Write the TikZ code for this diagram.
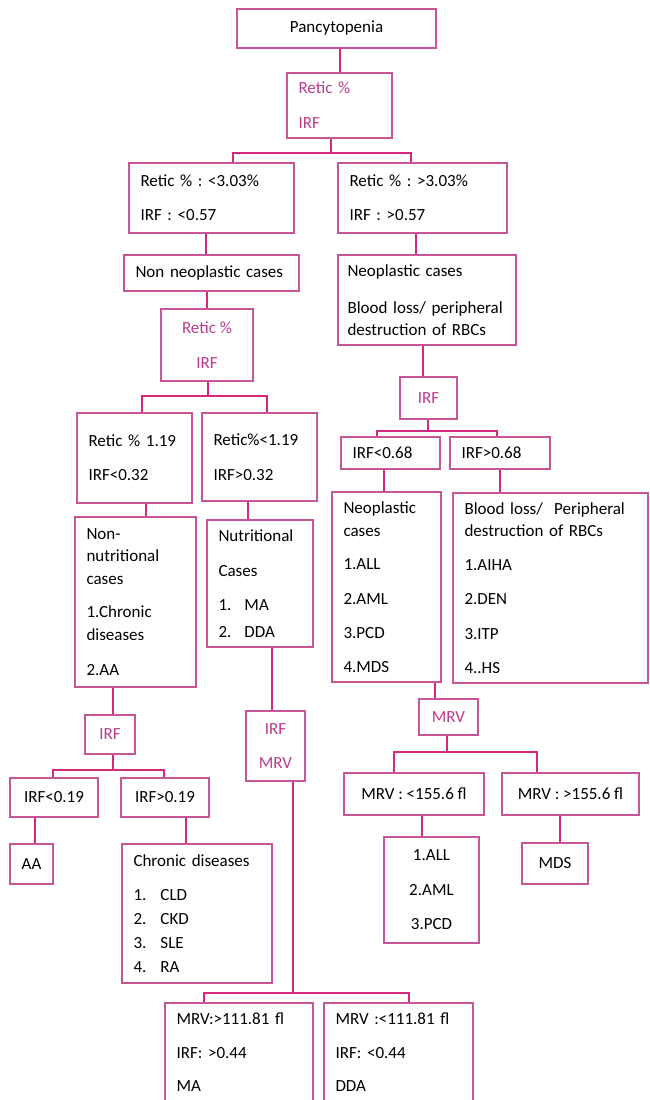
\documentclass[tikz,border=0pt]{standalone}
\usepackage{fontspec}
\setmainfont{Carlito}
\frenchspacing
\hyphenpenalty=10000
\exhyphenpenalty=10000

\definecolor{boxline}{RGB}{198,86,150}
\definecolor{linkline}{RGB}{214,40,124}
\definecolor{qtext}{RGB}{188,58,140}

\begin{document}
\begin{tikzpicture}[
  x=1pt, y=-1pt,
  box/.style={rectangle, draw=boxline, line width=1.5pt, inner ysep=2pt, font=\fontsize{17}{22.5}\selectfont},
  lbox/.style={box, align=left, inner xsep=11.5pt},
  cbox/.style={box, align=center, inner xsep=2pt},
  qbox/.style={cbox, text=qtext},
  link/.style={draw=linkline, line width=2pt},
]
\useasboundingbox (0,0) rectangle (649,1100);

% === Top ===
\node[cbox, minimum width=199pt, minimum height=39pt] (panc) at (336.5,28.5) {Pancytopenia};
\node[lbox, text=qtext, text width=82pt, minimum height=65pt] (q1) at (339.5,105.5) {Retic \%\\[12.5pt]IRF};

\node[lbox, text width=142pt, minimum height=70pt] (lo1) at (211.5,198) {Retic \% : <3.03\%\\[11.5pt]IRF : <0.57};
\node[lbox, text width=146pt, minimum height=70pt] (hi1) at (422.5,198) {Retic \% : >3.03\%\\[11.5pt]IRF : >0.57};

\node[lbox, text width=152pt, minimum height=36pt] (nonneo) at (211.5,273) {Non neoplastic cases};
\node[lbox, inner xsep=9.5pt, text width=159pt, minimum height=90pt] (neo) at (427,300) {Neoplastic cases\\[14.5pt]Blood loss/ peripheral\\destruction of RBCs};

% === Non neoplastic side ===
\node[qbox, minimum width=92pt, minimum height=72pt] (q2) at (207,345) {Retic \%\\[12.5pt]IRF};

\node[lbox, text width=92pt, minimum height=90pt] (lo2) at (134.5,458) {Retic \% 1.19\\[11.5pt]IRF<0.32};
\node[lbox, text width=92pt, minimum height=88pt] (hi2) at (259.5,457) {Retic\%<1.19\\[13pt]IRF>0.32};

\node[lbox, text width=98pt, minimum height=170pt] (nonnut) at (135.5,602) {Non-\\nutritional\\cases\\[11pt]1.Chronic\\diseases\\[13pt]2.AA};
\node[lbox, text width=83pt, minimum height=127pt] (nut) at (260,583.5) {Nutritional\\[12pt]Cases\\[11.5pt]\makebox[26pt][l]{1.}MA\\[4.5pt]\makebox[26pt][l]{2.}DDA};

\node[qbox, minimum width=50pt, minimum height=39pt] (irfa) at (110,734.5) {IRF};
\node[cbox, minimum width=88pt, minimum height=39pt] (lo4) at (54,797.5) {IRF<0.19};
\node[cbox, minimum width=88pt, minimum height=39pt] (hi4) at (165,797.5) {IRF>0.19};
\node[cbox, minimum width=43pt, minimum height=40pt] (aa) at (31.5,864) {AA};
\node[lbox, text width=127pt, minimum height=139pt] (chron) at (197,913.5) {Chronic diseases\\[11.5pt]\makebox[27pt][l]{1.}CLD\\[1.5pt]\makebox[27pt][l]{2.}CKD\\[1.5pt]\makebox[27pt][l]{3.}SLE\\[2pt]\makebox[27pt][l]{4.}RA};

\node[qbox, minimum width=59pt, minimum height=70pt] (mq) at (275.5,746) {IRF\\[11.5pt]MRV};
\node[lbox, text width=125pt, minimum height=98pt] (ma) at (239,1052) {MRV:>111.81 fl\\[11.5pt]IRF: >0.44\\[10.5pt]MA};
\node[lbox, text width=126pt, minimum height=98pt] (dda) at (398.5,1052) {MRV :<111.81 fl\\[11.5pt]IRF: <0.44\\[10.5pt]DDA};

% === Neoplastic side ===
\node[qbox, minimum width=57pt, minimum height=42pt] (irfb) at (428.5,398) {IRF};
\node[lbox, text width=76pt, minimum height=32pt] (lo3) at (390.5,453) {IRF<0.68};
\node[lbox, text width=77pt, minimum height=32pt] (hi3) at (500,453) {IRF>0.68};

\node[lbox, text width=86pt, minimum height=190pt] (neol) at (386.5,587) {Neoplastic\\cases\\[11pt]1.ALL\\[12pt]2.AML\\[11.5pt]3.PCD\\[11.5pt]4.MDS};
\node[lbox, text width=172pt, minimum height=190pt] (blood) at (550.5,588) {Blood loss/\ \ Peripheral\\destruction of RBCs\\[11.5pt]1.AIHA\\[11.5pt]2.DEN\\[12pt]3.ITP\\[12pt]4..HS};

\node[qbox, minimum width=59pt, minimum height=36pt] (mrvq) at (448.5,717) {MRV};
\node[cbox, minimum width=140pt, minimum height=42pt] (lo5) at (414,794) {MRV : <155.6 fl};
\node[cbox, minimum width=137pt, minimum height=42pt] (hi5) at (570.5,794) {MRV : >155.6 fl};
\node[cbox, minimum width=95pt, minimum height=106pt] (alll) at (431.5,890) {1.ALL\\[12.5pt]2.AML\\[11.5pt]3.PCD};
\node[cbox, minimum width=66pt, minimum height=41pt] (mds) at (555,863.5) {MDS};

% === Links: top ===
\draw[link] (q1.north) -- (q1.north |- panc.south);
\draw[link] ([xshift=-8.5pt]q1.south) -- ++(0,14) coordinate (j1);
\draw[link] ([xshift=21.5pt]lo1.north) |- (j1) -| ([xshift=-11.5pt]hi1.north);
\draw[link] ([xshift=-5.5pt]lo1.south) -- ([xshift=-5.5pt]lo1.south |- nonneo.north);
\draw[link] ([xshift=-6.5pt]hi1.south) -- ([xshift=-6.5pt]hi1.south |- neo.north);

% === Links: non neoplastic side ===
\draw[link] (q2.north) -- (q2.north |- nonneo.south);
\draw[link] ([xshift=1pt]q2.south) -- ++(0,14) coordinate (j2);
\draw[link] ([xshift=7.5pt]lo2.north) |- (j2) -| ([xshift=7.5pt]hi2.north);
\draw[link] ([xshift=11.5pt]lo2.south) -- ([xshift=11.5pt]lo2.south |- nonnut.north);
\draw[link] ([xshift=-11.5pt]hi2.south) -- ([xshift=-11.5pt]hi2.south |- nut.north);
\draw[link] ([xshift=3pt]irfa.north) -- ([xshift=3pt]irfa.north |- nonnut.south);
\draw[link] ([xshift=3pt]irfa.south) -- ++(0,15) coordinate (j3);
\draw[link] ([xshift=-1pt]lo4.north) |- (j3) -| ([xshift=-1pt]hi4.north);
\draw[link] ([xshift=3.5pt]aa.north) -- ([xshift=3.5pt]aa.north |- lo4.south);
\draw[link] ([xshift=-11pt]chron.north) -- ([xshift=-11pt]chron.north |- hi4.south);
\draw[link] ([xshift=-3.5pt]mq.north) -- ([xshift=-3.5pt]mq.north |- nut.south);
\draw[link] ([xshift=17pt]mq.south) -- ++(0,211) coordinate (j4);
\draw[link] ([xshift=-35pt]ma.north) |- (j4) -| ([xshift=10pt]dda.north);

% === Links: neoplastic side ===
\draw[link] ([xshift=-5.5pt]irfb.north) -- ([xshift=-5.5pt]irfb.north |- neo.south);
\draw[link] ([xshift=-0.5pt]irfb.south) -- ++(0,11) coordinate (j5);
\draw[link] ([xshift=-13.5pt]lo3.north) |- (j5) -| ([xshift=-3pt]hi3.north);
\draw[link] ([xshift=-6.5pt]lo3.south) -- ([xshift=-6.5pt]lo3.south |- neol.north);
\draw[link] (hi3.south) -- (hi3.south |- blood.north);
\draw[link] ([xshift=-13.5pt]mrvq.north) -- ([xshift=-13.5pt]mrvq.north |- neol.south);
\draw[link] ([xshift=-1.5pt]mrvq.south) -- ++(0,16) coordinate (j6);
\draw[link] ([xshift=-20pt]lo5.north) |- (j6) -| ([xshift=-33.5pt]hi5.north);
\draw[link] ([xshift=-9.5pt]alll.north) -- ([xshift=-9.5pt]alll.north |- lo5.south);
\draw[link] ([xshift=5pt]mds.north) -- ([xshift=5pt]mds.north |- hi5.south);

\end{tikzpicture}
\end{document}
